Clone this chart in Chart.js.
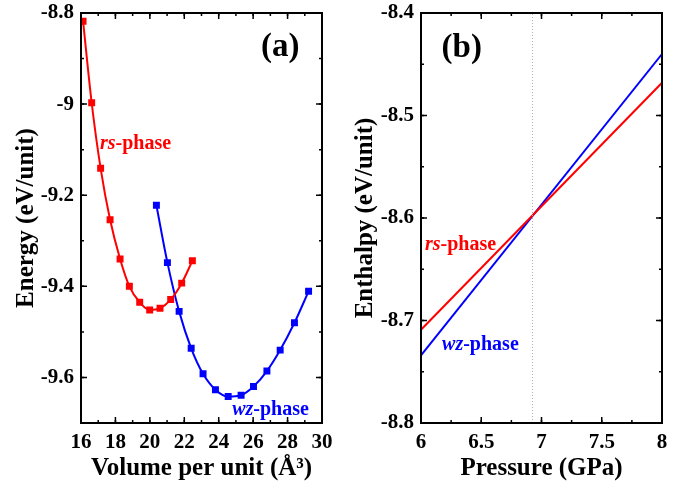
<!DOCTYPE html>
<html>
<head>
<meta charset="utf-8">
<script src="https://cdn.jsdelivr.net/npm/chart.js@4.4.1/dist/chart.umd.min.js"></script>
<style>
  body { margin: 0; background: #fff; }
  #wrap { position: relative; width: 691px; height: 487px; }
  canvas { position: absolute; top: 0; }
</style>
</head>
<body>
<div id="wrap">
  <canvas id="chartA" width="345" height="487" style="left:0"></canvas>
  <canvas id="chartB" width="346" height="487" style="left:345px"></canvas>
</div>
<script>
// (a) energy vs volume
const rsVolume = [16.12, 16.62, 17.14, 17.69, 18.27, 18.81, 19.41, 19.99, 20.59, 21.21, 21.85, 22.47];
const rsEnergy = [-8.818, -8.997, -9.141, -9.254, -9.340, -9.400, -9.435, -9.452, -9.448, -9.429, -9.393, -9.344];
const wzVolume = [20.38, 21.02, 21.70, 22.40, 23.09, 23.81, 24.55, 25.30, 26.02, 26.80, 27.57, 28.40, 29.22];
const wzEnergy = [-9.222, -9.348, -9.455, -9.536, -9.592, -9.627, -9.642, -9.639, -9.620, -9.586, -9.540, -9.480, -9.411];

// (b) enthalpy vs pressure
const pressure = [6, 8];
const rsEnthalpy = [-8.709, -8.468];
const wzEnthalpy = [-8.734, -8.440];
const transitionP = 6.925;

// tick labels
const volumeTicks = [16, 18, 20, 22, 24, 26, 28, 30];
const energyTicks = [-9.6, -9.4, -9.2, -9, -8.8];
const pressureTicks = [6, 6.5, 7, 7.5, 8];
const enthalpyTicks = [-8.8, -8.7, -8.6, -8.5, -8.4];

const RED = '#ff0000';
const BLUE = '#0000ff';
const FONT = "'Liberation Serif', 'Times New Roman', serif";

Chart.defaults.font.family = FONT;
Chart.defaults.color = '#000';

const toPts = (xs, ys) => xs.map((x, i) => ({ x: x, y: ys[i] }));

// frame + inward ticks on all four sides
const frameTicks = {
  id: 'frameTicks',
  afterDatasetsDraw(chart, args, opts) {
    const { ctx, chartArea: a, scales: { x, y } } = chart;
    ctx.save();
    ctx.strokeStyle = '#000';
    ctx.lineWidth = 2;
    ctx.strokeRect(a.left, a.top, a.right - a.left, a.bottom - a.top);
    ctx.lineWidth = 1.5;
    const tickX = (v, len) => {
      const p = x.getPixelForValue(v);
      ctx.beginPath();
      ctx.moveTo(p, a.bottom); ctx.lineTo(p, a.bottom - len);
      ctx.moveTo(p, a.top); ctx.lineTo(p, a.top + len);
      ctx.stroke();
    };
    const tickY = (v, len) => {
      const p = y.getPixelForValue(v);
      ctx.beginPath();
      ctx.moveTo(a.left, p); ctx.lineTo(a.left + len, p);
      ctx.moveTo(a.right, p); ctx.lineTo(a.right - len, p);
      ctx.stroke();
    };
    for (let v = x.min; v <= x.max + 1e-9; v += opts.minorX) tickX(v, 3);
    for (let v = y.min; v <= y.max + 1e-9; v += opts.minorY) tickY(v, 3);
    x.ticks.forEach(t => tickX(t.value, 6));
    y.ticks.forEach(t => tickY(t.value, 6));
    ctx.restore();
  }
};

// text labels placed in data coordinates
const textLabels = {
  id: 'textLabels',
  afterDatasetsDraw(chart, args, opts) {
    const { ctx, scales: { x, y } } = chart;
    ctx.save();
    ctx.textBaseline = 'middle';
    opts.items.forEach(item => {
      let px = x.getPixelForValue(item.x);
      const py = y.getPixelForValue(item.y);
      ctx.fillStyle = item.color;
      let total = 0;
      item.parts.forEach(p => {
        ctx.font = (p.italic ? 'italic ' : '') + 'bold ' + item.size + 'px ' + FONT;
        total += ctx.measureText(p.t).width;
      });
      if (item.align === 'center') px -= total / 2;
      item.parts.forEach(p => {
        ctx.font = (p.italic ? 'italic ' : '') + 'bold ' + item.size + 'px ' + FONT;
        ctx.textAlign = 'left';
        ctx.fillText(p.t, px, py);
        px += ctx.measureText(p.t).width;
      });
    });
    ctx.restore();
  }
};

function axis(min, max, ticks, title, fit, pad) {
  return {
    type: 'linear',
    min: min,
    max: max,
    afterBuildTicks: s => { s.ticks = ticks.map(v => ({ value: v })); },
    afterFit: fit,
    grid: { display: false, drawTicks: false },
    border: { display: false },
    ticks: {
      padding: 7,
      font: { size: 21, weight: 'bold' },
      color: '#000',
      callback: v => String(v)
    },
    title: {
      display: true,
      text: title,
      font: { size: 25, weight: 'bold' },
      color: '#000',
      padding: pad
    }
  };
}

// fixed axis box sizes so both plot areas line up with the reference
const fitX = s => { s.height = 64; };
const fitY = w => s => { s.width = w; s.paddingTop = 0; s.paddingBottom = 0; };

const baseOpts = {
  responsive: false,
  animation: false,
  devicePixelRatio: 1,
  plugins: { legend: { display: false }, tooltip: { enabled: false } }
};

new Chart(document.getElementById('chartA'), {
  type: 'line',
  data: {
    datasets: [
      {
        data: toPts(rsVolume, rsEnergy),
        borderColor: RED, backgroundColor: RED, borderWidth: 2,
        pointStyle: 'rect', pointRadius: 3.5, cubicInterpolationMode: 'monotone'
      },
      {
        data: toPts(wzVolume, wzEnergy),
        borderColor: BLUE, backgroundColor: BLUE, borderWidth: 2,
        pointStyle: 'rect', pointRadius: 3.5, cubicInterpolationMode: 'monotone'
      }
    ]
  },
  options: Object.assign({}, baseOpts, {
    layout: { padding: { left: 12, top: 13, right: 23, bottom: 0 } },
    scales: {
      x: axis(16, 30, volumeTicks, 'Volume per unit (Å³)', fitX, { top: 2, bottom: 3 }),
      y: axis(-9.7, -8.8, energyTicks, 'Energy (eV/unit)', fitY(69), { top: 0, bottom: 2 })
    },
    plugins: Object.assign({}, baseOpts.plugins, {
      frameTicks: { minorX: 1, minorY: 0.1 },
      textLabels: {
        items: [
          { x: 27.57, y: -8.876, parts: [{ t: '(a)' }], color: '#000', size: 33, align: 'center' },
          { x: 17.1, y: -9.087, parts: [{ t: 'rs', italic: true }, { t: '-phase' }], color: RED, size: 20 },
          { x: 24.78, y: -9.67, parts: [{ t: 'wz', italic: true }, { t: '-phase' }], color: BLUE, size: 20 }
        ]
      }
    })
  }),
  plugins: [frameTicks, textLabels]
});

new Chart(document.getElementById('chartB'), {
  type: 'line',
  data: {
    datasets: [
      {
        data: [{ x: transitionP, y: -8.8 }, { x: transitionP, y: -8.4 }],
        borderColor: '#b0b0b0', borderWidth: 1, borderDash: [1, 2], pointRadius: 0
      },
      {
        data: toPts(pressure, rsEnthalpy),
        borderColor: RED, borderWidth: 2, pointRadius: 0
      },
      {
        data: toPts(pressure, wzEnthalpy),
        borderColor: BLUE, borderWidth: 2, pointRadius: 0
      }
    ]
  },
  options: Object.assign({}, baseOpts, {
    layout: { padding: { left: 6, top: 13, right: 29, bottom: 0 } },
    scales: {
      x: axis(6, 8, pressureTicks, 'Pressure (GPa)', fitX, { top: 2, bottom: 3 }),
      y: axis(-8.8, -8.4, enthalpyTicks, 'Enthalpy (eV/unit)', fitY(70), { top: 0, bottom: 2 })
    },
    plugins: Object.assign({}, baseOpts.plugins, {
      frameTicks: { minorX: 0.25, minorY: 0.05 },
      textLabels: {
        items: [
          { x: 6.338, y: -8.435, parts: [{ t: '(b)' }], color: '#000', size: 33, align: 'center' },
          { x: 6.033, y: -8.626, parts: [{ t: 'rs', italic: true }, { t: '-phase' }], color: RED, size: 20 },
          { x: 6.175, y: -8.724, parts: [{ t: 'wz', italic: true }, { t: '-phase' }], color: BLUE, size: 20 }
        ]
      }
    })
  }),
  plugins: [frameTicks, textLabels]
});
</script>
</body>
</html>
